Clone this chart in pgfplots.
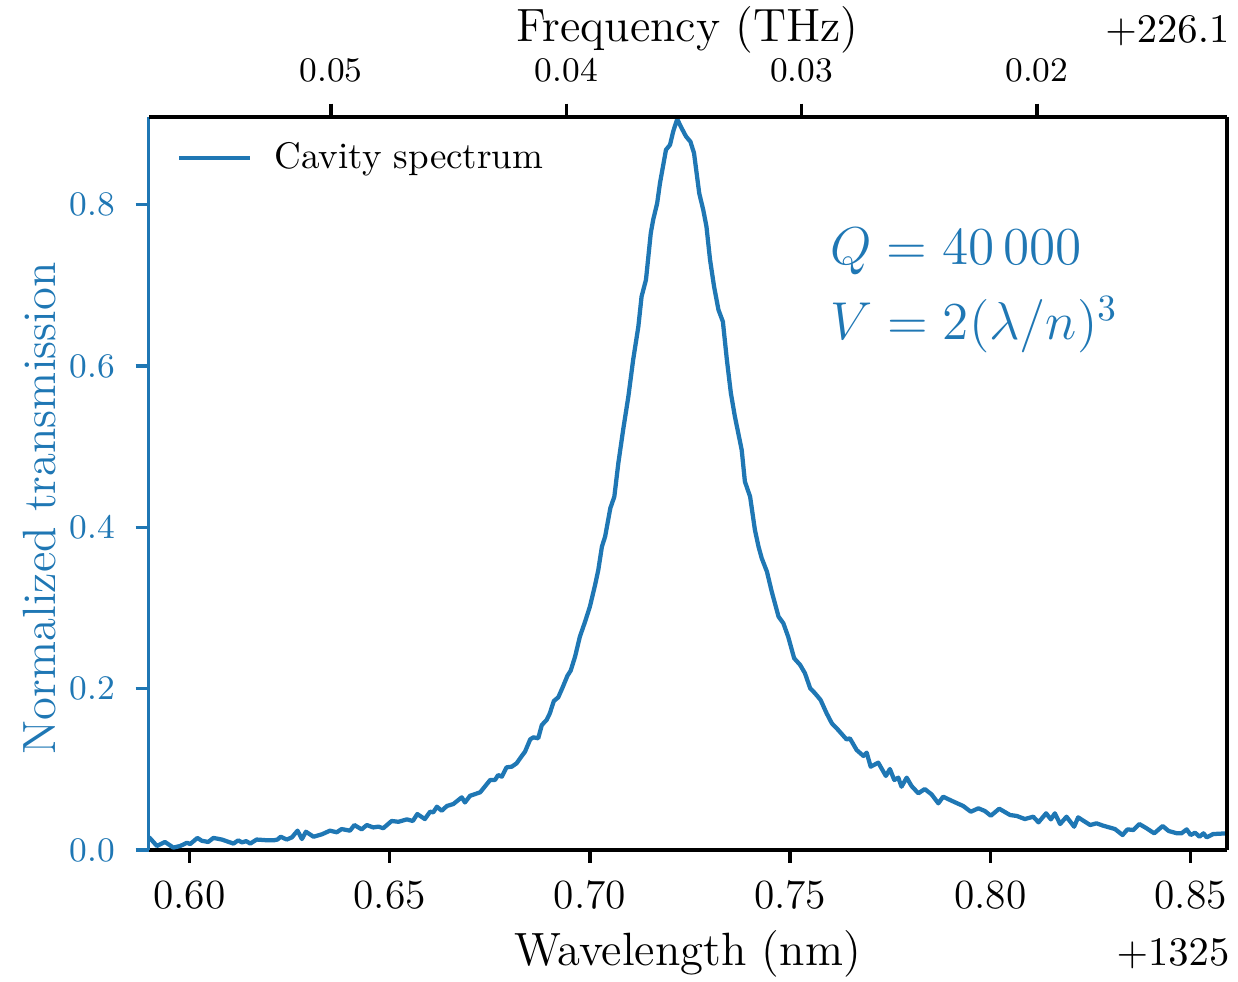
\documentclass[border=0pt]{standalone}
\usepackage{pgfplots}
\pgfplotsset{compat=1.18}
\definecolor{tabblue}{RGB}{31,119,180}
\begin{document}
\begin{tikzpicture}
\begin{axis}[
  name=main,
  scale only axis, width=291.1pt, height=198pt,
  xmin=0.5898, xmax=0.8590, ymin=0, ymax=0.909,
  scaled x ticks=false, scaled y ticks=false,
  separate axis lines,
  axis x line*=bottom, axis y line*=left,
  x axis line style={black, line width=1pt},
  y axis line style={tabblue, line width=1pt},
  tick align=outside, major tick length=3.5pt,
  xtick={0.60,0.65,0.70,0.75,0.80,0.85},
  xticklabels={0.60,0.65,0.70,0.75,0.80,0.85},
  ytick={0,0.2,0.4,0.6,0.8},
  yticklabels={0.0,0.2,0.4,0.6,0.8},
  minor tick num=0,
  xtick style={black, line width=0.9pt},
  ytick style={tabblue, line width=0.9pt},
  xticklabel style={font=\fontsize{11.2}{13}\selectfont, inner sep=0pt, anchor=base, yshift=-12.2pt},
  yticklabel style={font=\fontsize{9.3}{11}\selectfont, inner sep=0pt, anchor=east, xshift=-5.4pt, text=tabblue},
  xlabel={Wavelength (nm)},
  xlabel style={font=\fontsize{12.6}{15}\selectfont, at={(axis description cs:0.5,-0.1568)}, anchor=base, inner sep=0pt},
  ylabel={Normalized transmission},
  ylabel style={font=\fontsize{12.6}{15}\selectfont, at={(axis description cs:-0.08626,0.466)}, anchor=base, inner sep=0pt, text=tabblue},
  clip mode=individual,
  legend style={draw=none, fill=none, at={(axis description cs:0.0264,0.9437)}, anchor=west, inner sep=0pt, outer sep=0pt,
    nodes={inner sep=0pt}, font=\fontsize{10}{12}\selectfont, column sep=6pt},
  legend cell align=left,
  legend image code/.code={\draw[#1] (0pt,0pt) -- (19.2pt,0pt);},
]
\addplot[tabblue, line width=1.15pt, line join=round] table[row sep=\\] {
x y\\
0.5898 0.016\\ 0.5902 0.0145\\ 0.5919 0.005\\ 0.5939 0.010\\ 0.5960 0.003\\ 0.5977 0.005\\
0.5994 0.009\\ 0.6002 0.0074\\ 0.6020 0.015\\ 0.6031 0.0115\\ 0.6047 0.010\\ 0.6060 0.015\\
0.6081 0.013\\ 0.6110 0.008\\ 0.6122 0.012\\ 0.6131 0.0095\\ 0.6142 0.011\\ 0.6152 0.008\\
0.6168 0.013\\ 0.6197 0.012\\ 0.6210 0.012\\ 0.6220 0.013\\ 0.6228 0.0165\\ 0.6243 0.013\\
0.6256 0.0157\\ 0.6270 0.024\\ 0.6281 0.0136\\ 0.6291 0.0227\\ 0.6310 0.0165\\ 0.6331 0.0195\\
0.6351 0.024\\ 0.6368 0.022\\ 0.6380 0.026\\ 0.6401 0.024\\ 0.6412 0.031\\ 0.6430 0.0256\\
0.6443 0.031\\ 0.6459 0.028\\ 0.6472 0.029\\ 0.6484 0.027\\ 0.6505 0.036\\ 0.6522 0.035\\
0.6543 0.038\\ 0.6558 0.036\\ 0.6569 0.0446\\ 0.6588 0.0384\\ 0.6601 0.0475\\ 0.6609 0.0467\\
0.6618 0.0537\\ 0.6630 0.0487\\ 0.6643 0.0546\\ 0.6659 0.057\\ 0.6680 0.0653\\ 0.6688 0.059\\
0.6701 0.0673\\ 0.6726 0.0715\\ 0.6751 0.0868\\ 0.6763 0.0868\\ 0.6771 0.093\\ 0.6780 0.0909\\
0.6792 0.1025\\ 0.6805 0.1033\\ 0.6817 0.1075\\ 0.6830 0.1166\\ 0.6838 0.1219\\ 0.6851 0.1372\\
0.6859 0.1397\\ 0.6871 0.1385\\ 0.6880 0.155\\ 0.6892 0.1612\\ 0.6900 0.1695\\ 0.6910 0.1847\\
0.6921 0.1893\\ 0.6931 0.2005\\ 0.6944 0.2161\\ 0.6952 0.2223\\ 0.6963 0.2397\\ 0.6975 0.2645\\
0.6988 0.2831\\ 0.7000 0.3017\\ 0.7013 0.3286\\ 0.7021 0.3472\\ 0.7030 0.3761\\ 0.7038 0.3885\\
0.7051 0.4237\\ 0.7061 0.438\\ 0.7071 0.4795\\ 0.7083 0.5208\\ 0.7096 0.562\\ 0.7108 0.6076\\
0.7121 0.6489\\ 0.7129 0.686\\ 0.7140 0.7068\\ 0.7146 0.7357\\ 0.7152 0.7647\\ 0.7158 0.7812\\
0.7168 0.8018\\ 0.7175 0.8267\\ 0.7190 0.868\\ 0.7200 0.874\\ 0.7208 0.8907\\ 0.7218 0.906\\
0.7229 0.8948\\ 0.7240 0.8845\\ 0.7251 0.878\\ 0.7260 0.8638\\ 0.7273 0.814\\ 0.7283 0.7935\\
0.7291 0.7729\\ 0.7300 0.7316\\ 0.7310 0.6985\\ 0.7321 0.6696\\ 0.7332 0.655\\ 0.7342 0.6076\\
0.7352 0.5663\\ 0.7362 0.5373\\ 0.7379 0.496\\ 0.7387 0.4567\\ 0.7400 0.438\\ 0.7412 0.3968\\
0.7421 0.3761\\ 0.7429 0.3617\\ 0.7442 0.3451\\ 0.7454 0.3203\\ 0.7471 0.2893\\ 0.7483 0.2811\\
0.7495 0.2645\\ 0.7510 0.2377\\ 0.7525 0.2294\\ 0.7537 0.2191\\ 0.7550 0.2005\\ 0.7562 0.1943\\
0.7576 0.186\\ 0.7591 0.1695\\ 0.7604 0.1571\\ 0.7620 0.1488\\ 0.7641 0.137\\ 0.7649 0.1385\\
0.7666 0.124\\ 0.7683 0.1166\\ 0.7691 0.1207\\ 0.7701 0.1033\\ 0.7720 0.1083\\ 0.7739 0.0918\\
0.7749 0.1004\\ 0.7760 0.0868\\ 0.7770 0.0897\\ 0.7778 0.0785\\ 0.7791 0.0897\\ 0.7803 0.0794\\
0.7820 0.0703\\ 0.7836 0.0756\\ 0.7853 0.069\\ 0.7870 0.0579\\ 0.7882 0.0661\\ 0.7903 0.0611\\
0.7932 0.0546\\ 0.7951 0.0475\\ 0.7970 0.0517\\ 0.7986 0.0484\\ 0.8001 0.0425\\ 0.8022 0.0512\\
0.8049 0.0434\\ 0.8066 0.0422\\ 0.8086 0.0384\\ 0.8107 0.0413\\ 0.8120 0.0343\\ 0.8139 0.0455\\
0.8151 0.038\\ 0.8161 0.0455\\ 0.8174 0.0322\\ 0.8190 0.0413\\ 0.8209 0.0289\\ 0.8219 0.0405\\
0.8249 0.031\\ 0.8265 0.0331\\ 0.8282 0.0301\\ 0.8311 0.026\\ 0.8330 0.0186\\ 0.8342 0.0256\\
0.8357 0.0248\\ 0.8372 0.0322\\ 0.8390 0.0269\\ 0.8409 0.0207\\ 0.8430 0.0298\\ 0.8445 0.0236\\
0.8466 0.0207\\ 0.8477 0.0207\\ 0.8490 0.0256\\ 0.8500 0.0186\\ 0.8511 0.0215\\ 0.8522 0.0165\\
0.8532 0.0207\\ 0.8540 0.0157\\ 0.8556 0.0198\\ 0.8590 0.0207\\
};
\addlegendentry{Cavity spectrum}
\coordinate (bl) at (rel axis cs:0,0);
\coordinate (tr) at (rel axis cs:1,1);
\node[anchor=base east, inner sep=0pt, font=\fontsize{11.2}{13}\selectfont] at (axis description cs:1.0031,-0.1568) {$+1325$};
\node[anchor=base west, inner sep=0pt, text=tabblue, font=\fontsize{14.3}{17}\selectfont] at (axis description cs:0.632,0.7991) {$Q = 40\,000$};
\node[anchor=base west, inner sep=0pt, text=tabblue, font=\fontsize{14.3}{17}\selectfont] at (axis description cs:0.632,0.6955) {$V = 2(\lambda/n)^3$};
\end{axis}
\begin{axis}[
  scale only axis, width=291.1pt, height=198pt,
  xmin=0.011934, xmax=0.057756, x dir=reverse, ymin=0, ymax=1,
  scaled x ticks=false, scaled y ticks=false,
  separate axis lines,
  axis x line*=top, axis y line*=right,
  axis line style={black, line width=1pt},
  ytick=\empty,
  tick align=outside, major tick length=3.5pt,
  xtick={0.02,0.03,0.04,0.05},
  xticklabels={0.02,0.03,0.04,0.05},
  minor tick num=0,
  xtick style={black, line width=0.9pt},
  xticklabel style={font=\fontsize{9.3}{11}\selectfont, inner sep=0pt, anchor=base, yshift=5.9pt},
  xlabel={Frequency (THz)},
  xlabel style={font=\fontsize{12.6}{15}\selectfont, at={(axis description cs:0.5,1.1019)}, anchor=base, inner sep=0pt},
  clip mode=individual,
]
\node[anchor=base east, inner sep=0pt, font=\fontsize{11.2}{13}\selectfont] at (axis description cs:1.0031,1.1005) {$+226.1$};
\end{axis}
\pgfresetboundingbox
\path ([shift={(-40.1pt,-35.37pt)}]bl) rectangle ([shift={(3.05pt,31.5pt)}]tr);
\end{tikzpicture}
\end{document}
